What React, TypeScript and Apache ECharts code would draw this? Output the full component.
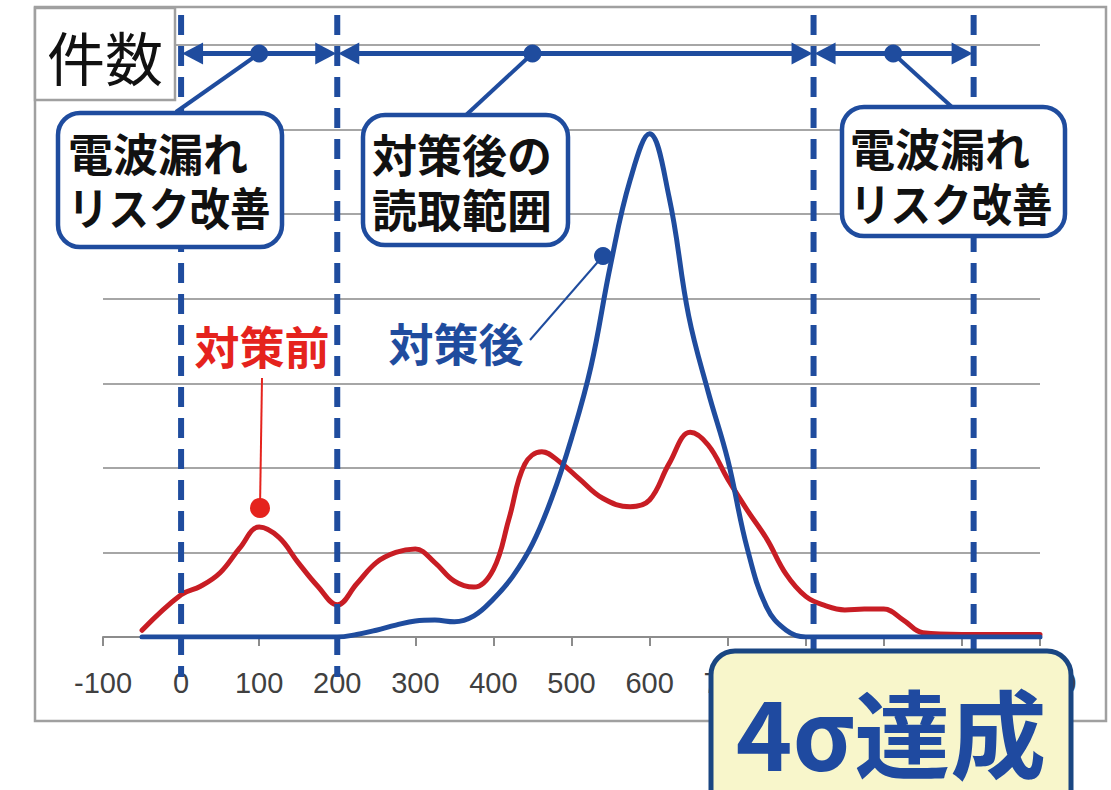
import React, { useEffect, useRef } from "react";
import * as echarts from "echarts";

// ---- data ----
const beforeX = [-50, 0, 25, 50, 75, 100, 125, 150, 175, 200, 225, 250, 275, 300, 325, 350, 375, 400, 420, 440, 462, 485, 510, 540, 575, 600, 625, 652, 675, 700, 725, 750, 775, 800, 825, 850, 875, 900, 925, 950, 1000, 1050, 1100];
const beforeValues = [0.08, 0.5, 0.6, 0.76, 1.05, 1.3, 1.18, 0.88, 0.6, 0.38, 0.63, 0.88, 1.0, 1.04, 0.88, 0.66, 0.59, 0.8, 1.4, 2.04, 2.19, 2.07, 1.87, 1.64, 1.54, 1.62, 2.05, 2.42, 2.27, 1.87, 1.5, 1.16, 0.74, 0.48, 0.37, 0.32, 0.33, 0.33, 0.2, 0.05, 0.03, 0.03, 0.03];
const afterX = [-50, 0, 50, 100, 150, 200, 225, 250, 275, 300, 325, 350, 375, 400, 425, 450, 475, 500, 525, 550, 575, 600, 625, 650, 675, 700, 725, 750, 775, 800, 850, 900, 950, 1000, 1050, 1100];
const afterValues = [0, 0, 0, 0, 0, 0, 0.03, 0.08, 0.14, 0.19, 0.2, 0.18, 0.25, 0.45, 0.72, 1.1, 1.65, 2.35, 3.2, 4.4, 5.4, 5.95, 5.2, 3.8, 2.9, 2.1, 1.05, 0.35, 0.08, 0, 0, 0, 0, 0, 0, 0];
const boundaryValues = [0, 200, 810, 1015];
const arrowSpans = [[0, 200], [200, 810], [810, 1015]];
const arrowDotValues = [100, 450, 912];
const arrowLevel = 6.9;

// ---- layout ----
const W = 1111;
const H = 790;
const GRID = { left: 103, right: 71, top: 45, bottom: 153 };
const X_MIN = -100;
const X_MAX = 1100;
const Y_MAX = 7;

const BLUE = "#1f4c9e";
const RED = "#c81d24";
const RED_TEXT = "#e5231d";
const CJK = '"Noto Sans CJK JP", sans-serif';

const xPx = (v: number) => GRID.left + ((v - X_MIN) / (X_MAX - X_MIN)) * (W - GRID.left - GRID.right);
const yPx = (v: number) => GRID.top + ((Y_MAX - v) / Y_MAX) * (H - GRID.top - GRID.bottom);

function txt(text: string, x: number, y: number, font: string, fill: string, align: string, z: number, scaleX = 1) {
  return {
    type: "text",
    x,
    y,
    scaleX,
    z,
    style: {
      text,
      font,
      fill,
      textAlign: align,
      textVerticalAlign: "middle",
      align,
      verticalAlign: "middle",
    },
  };
}

export default function App() {
  const ref = useRef<HTMLDivElement>(null);

  useEffect(() => {
    if (!ref.current) return;
    const chart = echarts.init(ref.current, undefined, { renderer: "svg" });
    const AY = yPx(arrowLevel);
    const graphics: any[] = [];

    // outer frame
    graphics.push({
      type: "rect",
      z: 0,
      shape: { x: 35, y: 7, width: 1071, height: 714 },
      style: { fill: "none", stroke: "#a0a0a0", lineWidth: 2.5 },
    });

    // dashed boundaries
    boundaryValues.forEach((v) => {
      graphics.push({
        type: "line",
        z: 10,
        shape: { x1: xPx(v), y1: 15, x2: xPx(v), y2: 677 },
        style: { stroke: BLUE, lineWidth: 6, lineDash: [20, 11] },
      });
    });

    // arrows
    const HL = 22;
    const HW = 11;
    arrowSpans.forEach(([a, b]) => {
      const xa = xPx(a);
      const xb = xPx(b);
      graphics.push({
        type: "line",
        z: 12,
        shape: { x1: xa + 10, y1: AY, x2: xb - 10, y2: AY },
        style: { stroke: BLUE, lineWidth: 5 },
      });
      graphics.push({
        type: "polygon",
        z: 12,
        shape: { points: [[xa + 1, AY], [xa + HL, AY - HW], [xa + HL, AY + HW]] },
        style: { fill: BLUE },
      });
      graphics.push({
        type: "polygon",
        z: 12,
        shape: { points: [[xb - 1, AY], [xb - HL, AY - HW], [xb - HL, AY + HW]] },
        style: { fill: BLUE },
      });
    });

    // leaders from arrow dots to boxes
    const leaderEnds = [[176, 112], [465, 116], [953, 108]];
    arrowDotValues.forEach((d, i) => {
      graphics.push({
        type: "line",
        z: 12,
        shape: { x1: xPx(d), y1: AY, x2: leaderEnds[i][0], y2: leaderEnds[i][1] },
        style: { stroke: BLUE, lineWidth: 4 },
      });
      graphics.push({
        type: "circle",
        z: 13,
        shape: { cx: xPx(d), cy: AY, r: 9 },
        style: { fill: BLUE },
      });
    });

    // annotation boxes
    const boxes = [
      { x: 58, y: 113, w: 224, h: 134, l1: "電波漏れ", l2: "リスク改善", tx: 68, y1: 152, y2: 206, s2: 0.9 },
      { x: 363, y: 115, w: 205, h: 130, l1: "対策後の", l2: "読取範囲", tx: 372, y1: 153, y2: 208, s2: 1 },
      { x: 842, y: 107, w: 223, h: 129, l1: "電波漏れ", l2: "リスク改善", tx: 850, y1: 147, y2: 202, s2: 0.9 },
    ];
    boxes.forEach((b) => {
      graphics.push({
        type: "rect",
        z: 20,
        shape: { x: b.x, y: b.y, width: b.w, height: b.h, r: 22 },
        style: { fill: "#ffffff", stroke: BLUE, lineWidth: 4.5 },
      });
      graphics.push(txt(b.l1, b.tx, b.y1, `bold 45px ${CJK}`, "#111111", "left", 21));
      graphics.push(txt(b.l2, b.tx, b.y2, `bold 45px ${CJK}`, "#111111", "left", 21, b.s2));
    });

    // 件数 box
    graphics.push({
      type: "rect",
      z: 20,
      shape: { x: 35, y: 8, width: 140, height: 92 },
      style: { fill: "#ffffff", stroke: "#a0a0a0", lineWidth: 2.5 },
    });
    graphics.push(txt("件数", 105, 56, `58px ${CJK}`, "#111111", "center", 21));

    // series labels
    graphics.push(txt("対策前", 262, 345, `bold 45px ${CJK}`, RED_TEXT, "center", 21));
    graphics.push({
      type: "line",
      z: 21,
      shape: { x1: 262, y1: 378, x2: 260, y2: 508 },
      style: { stroke: RED_TEXT, lineWidth: 2 },
    });
    graphics.push({ type: "circle", z: 21, shape: { cx: 260, cy: 508, r: 10 }, style: { fill: RED_TEXT } });

    graphics.push(txt("対策後", 456, 342, `bold 45px ${CJK}`, BLUE, "center", 21));
    graphics.push({
      type: "line",
      z: 21,
      shape: { x1: 530, y1: 340, x2: 603, y2: 256 },
      style: { stroke: BLUE, lineWidth: 2 },
    });
    graphics.push({ type: "circle", z: 21, shape: { cx: 603, cy: 256, r: 9 }, style: { fill: BLUE } });

    // 4σ達成 box
    graphics.push({
      type: "rect",
      z: 50,
      shape: { x: 711, y: 651, width: 360, height: 200, r: 24 },
      style: { fill: "#f8f6cb", stroke: "#1a4682", lineWidth: 5 },
    });
    graphics.push(txt("4σ達成", 891, 729, `bold 96px ${CJK}`, "#1f4aa0", "center", 51));

    chart.setOption({
      animation: false,
      backgroundColor: "#ffffff",
      grid: { ...GRID, containLabel: false },
      xAxis: {
        type: "value",
        min: X_MIN,
        max: X_MAX,
        interval: 100,
        axisLine: { show: true, lineStyle: { color: "#8c8c8c", width: 2 } },
        axisTick: { show: true, length: 9, lineStyle: { color: "#8c8c8c", width: 2 } },
        axisLabel: { fontFamily: '"Liberation Sans", sans-serif', fontSize: 29, color: "#404040", margin: 31 },
        splitLine: { show: false },
      },
      yAxis: {
        type: "value",
        min: 0,
        max: Y_MAX,
        interval: 1,
        axisLine: { show: false },
        axisTick: { show: false },
        axisLabel: { show: false },
        splitLine: { show: true, lineStyle: { color: "#a6a6a6", width: 2 } },
      },
      series: [
        {
          type: "line",
          name: "対策前",
          data: beforeX.map((x, i) => [x, beforeValues[i]]),
          smooth: 0.4,
          showSymbol: false,
          symbol: "none",
          lineStyle: { color: RED, width: 5, cap: "round" },
          itemStyle: { color: RED },
          z: 2,
        },
        {
          type: "line",
          name: "対策後",
          data: afterX.map((x, i) => [x, afterValues[i]]),
          smooth: 0.4,
          showSymbol: false,
          symbol: "none",
          lineStyle: { color: BLUE, width: 5, cap: "round" },
          itemStyle: { color: BLUE },
          z: 3,
        },
      ],
      graphic: { elements: graphics },
    });

    return () => chart.dispose();
  }, []);

  return (
    <div
      ref={ref}
      style={{ position: "fixed", left: 0, top: 0, width: W, height: H, background: "#fff" }}
    />
  );
}
